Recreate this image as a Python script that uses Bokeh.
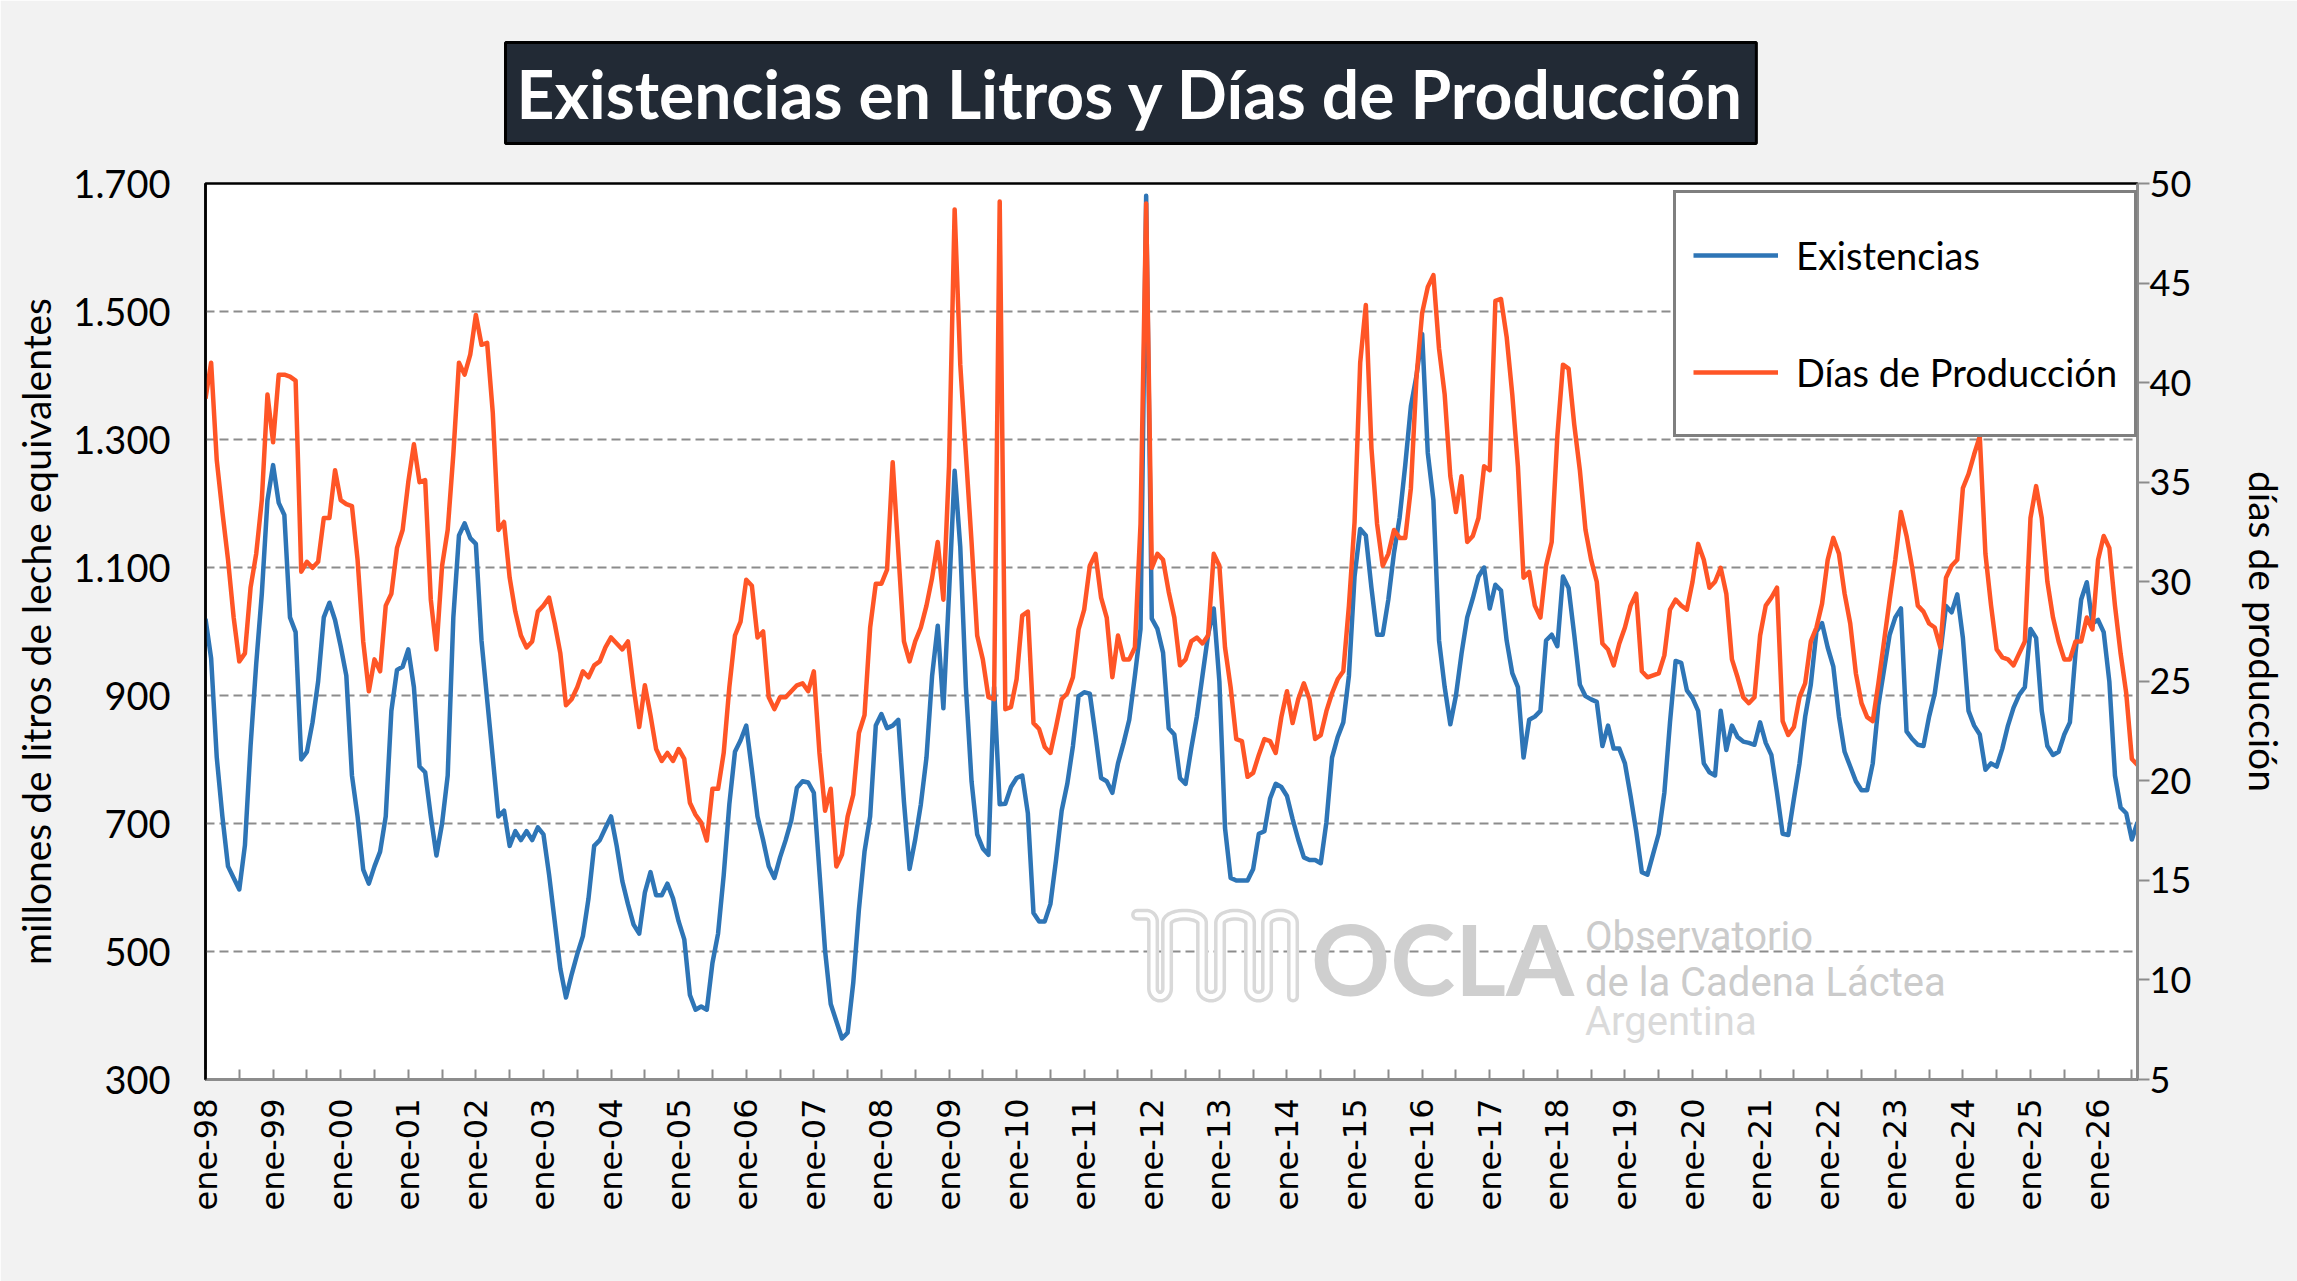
import numpy as np
from bokeh.plotting import figure
from bokeh.models import Range1d, LinearAxis, FixedTicker, Legend, LegendItem
from bokeh.core.properties import value
from bokeh.embed import file_html
from bokeh.resources import INLINE

# ---------------- datos ----------------
anios = ["98", "99", "00", "01", "02", "03", "04", "05", "06", "07", "08", "09", "10",
         "11", "12", "13", "14", "15", "16", "17", "18", "19", "20", "21", "22", "23",
         "24", "25", "26"]

# millones de litros de leche equivalentes, mensual desde ene-98
existencias = [
    1020, 958, 803, 711, 633, 615, 597, 666, 821, 949,
    1059, 1205, 1260, 1201, 1182, 1022, 999, 800, 812, 858,
    922, 1022, 1045, 1018, 977, 931, 775, 711, 628, 606,
    633, 656, 711, 876, 940, 945, 972, 913, 789, 780,
    711, 650, 700, 775, 1022, 1150, 1169, 1146, 1137, 986,
    894, 803, 711, 720, 665, 688, 674, 688, 674, 694,
    683, 620, 547, 473, 428, 464, 496, 524, 583, 665,
    674, 693, 711, 665, 610, 574, 542, 528, 592, 624,
    588, 588, 606, 583, 547, 519, 432, 409, 414, 409,
    482, 528, 619, 730, 812, 830, 853, 784, 711, 674,
    633, 615, 647, 674, 705, 756, 766, 764, 748, 624,
    501, 418, 391, 364, 373, 451, 565, 656, 711, 853,
    871, 849, 853, 862, 734, 629, 675, 730, 803, 931,
    1009, 880, 1059, 1251, 1132, 913, 766, 683, 661, 651,
    913, 730, 731, 757, 771, 775, 716, 560, 547, 547,
    574, 643, 720, 762, 821, 899, 905, 903, 839, 771,
    766, 748, 794, 826, 862, 931, 1004, 1681, 1020, 1004,
    967, 849, 839, 771, 762, 817, 867, 931, 995, 1036,
    922, 693, 615, 611, 611, 611, 629, 684, 688, 739,
    762, 757, 743, 707, 675, 647, 643, 643, 638, 702,
    803, 835, 858, 931, 1086, 1160, 1150, 1068, 995, 995,
    1050, 1123, 1178, 1260, 1352, 1400, 1465, 1279, 1205, 986,
    913, 855, 900, 966, 1022, 1052, 1086, 1100, 1036, 1073,
    1064, 986, 935, 913, 803, 862, 867, 876, 986, 995,
    977, 1086, 1068, 995, 917, 899, 894, 890, 821, 853,
    817, 817, 794, 743, 688, 624, 620, 652, 684, 748,
    858, 954, 951, 908, 896, 876, 794, 780, 775, 876,
    815, 853, 835, 828, 826, 823, 858, 826, 807, 748,
    684, 682, 739, 794, 867, 917, 1000, 1013, 975, 945,
    867, 812, 789, 766, 752, 752, 794, 885, 940, 995,
    1022, 1036, 844, 832, 823, 821, 867, 903, 967, 1040,
    1030, 1058, 990, 876, 853, 839, 784, 794, 789, 817,
    853, 881, 901, 913, 1004, 990, 876, 821, 807, 812,
    839, 858, 967, 1050, 1077, 1013, 1018, 999, 922, 775,
    725, 716, 675, 702,
]

# días de producción, mensual desde ene-98
dias = [
    39.2, 41.0, 36.1, 33.5, 31.1, 28.2, 26.0, 26.4, 29.7, 31.4,
    34.1, 39.4, 37.0, 40.4, 40.4, 40.3, 40.1, 30.5, 31.0, 30.7,
    31.0, 33.2, 33.2, 35.6, 34.1, 33.9, 33.8, 31.1, 27.0, 24.5,
    26.1, 25.5, 28.8, 29.4, 31.7, 32.6, 35.0, 36.9, 35.0, 35.1,
    29.1, 26.6, 30.8, 32.6, 36.4, 41.0, 40.4, 41.4, 43.4, 41.9,
    42.0, 38.5, 32.6, 33.0, 30.2, 28.5, 27.3, 26.7, 27.0, 28.5,
    28.8, 29.2, 27.9, 26.4, 23.8, 24.1, 24.7, 25.5, 25.2, 25.8,
    26.0, 26.7, 27.2, 26.9, 26.6, 27.0, 24.7, 22.7, 24.8, 23.3,
    21.6, 21.0, 21.4, 21.0, 21.6, 21.1, 18.9, 18.3, 17.9, 17.0,
    19.6, 19.6, 21.4, 24.7, 27.3, 28.0, 30.1, 29.8, 27.2, 27.5,
    24.2, 23.6, 24.2, 24.2, 24.5, 24.8, 24.9, 24.5, 25.5, 21.4,
    18.5, 19.6, 15.7, 16.3, 18.2, 19.3, 22.4, 23.3, 27.7, 29.9,
    29.9, 30.6, 36.0, 31.5, 27.0, 26.0, 27.0, 27.7, 28.8, 30.2,
    32.0, 29.1, 35.8, 48.7, 40.9, 36.4, 32.0, 27.3, 26.1, 24.2,
    24.1, 49.1, 23.6, 23.7, 25.1, 28.3, 28.5, 22.9, 22.6, 21.7,
    21.4, 22.7, 24.1, 24.4, 25.2, 27.6, 28.6, 30.8, 31.4, 29.2,
    28.2, 25.2, 27.3, 26.1, 26.1, 26.7, 32.9, 49.0, 30.7, 31.4,
    31.1, 29.5, 28.2, 25.8, 26.1, 27.0, 27.2, 26.9, 27.3, 31.4,
    30.8, 26.7, 24.7, 22.1, 22.0, 20.2, 20.4, 21.3, 22.1, 22.0,
    21.4, 23.2, 24.5, 22.9, 24.1, 24.9, 24.1, 22.1, 22.3, 23.5,
    24.4, 25.1, 25.5, 28.8, 33.0, 41.0, 43.9, 36.7, 32.9, 30.8,
    31.4, 32.6, 32.2, 32.2, 34.7, 40.3, 43.5, 44.8, 45.4, 41.7,
    39.4, 35.3, 33.5, 35.3, 32.0, 32.3, 33.2, 35.8, 35.6, 44.1,
    44.2, 42.3, 39.4, 35.8, 30.2, 30.5, 28.8, 28.2, 30.8, 32.0,
    37.3, 40.9, 40.7, 37.9, 35.6, 32.6, 31.1, 30.0, 26.9, 26.6,
    25.8, 26.9, 27.7, 28.8, 29.4, 25.5, 25.2, 25.3, 25.4, 26.3,
    28.6, 29.1, 28.8, 28.6, 30.0, 31.9, 31.1, 29.7, 30.0, 30.7,
    29.4, 26.1, 25.2, 24.2, 23.9, 24.2, 27.3, 28.8, 29.2, 29.7,
    23.0, 22.3, 22.7, 24.2, 24.9, 27.0, 27.7, 28.9, 31.1, 32.2,
    31.4, 29.4, 27.9, 25.4, 23.9, 23.2, 23.0, 24.9, 27.0, 29.1,
    31.1, 33.5, 32.3, 30.7, 28.8, 28.5, 27.9, 27.7, 26.7, 30.2,
    30.8, 31.1, 34.7, 35.4, 36.4, 37.3, 31.4, 28.8, 26.6, 26.2,
    26.1, 25.8, 26.4, 27.0, 33.2, 34.8, 33.2, 30.0, 28.2, 27.0,
    26.1, 26.1, 27.0, 27.0, 28.2, 27.6, 31.1, 32.3, 31.7, 28.8,
    26.4, 24.4, 21.1, 20.8,
]

ticks_izq = [300, 500, 700, 900, 1100, 1300, 1500, 1700]
etiquetas_izq = ["300", "500", "700", "900", "1.100", "1.300", "1.500", "1.700"]
ticks_der = [5, 10, 15, 20, 25, 30, 35, 40, 45, 50]

# ---------------- figura ----------------
n = max(len(existencias), len(dias))
x_exist = list(range(len(existencias)))
x_dias = list(range(len(dias)))

AZUL = "#2e75b6"
NARANJA = "#ff5526"

p = figure(width=2297, height=1281, output_backend="svg", toolbar_location=None,
           x_range=Range1d(0, n - 1), y_range=Range1d(300, 1700),
           min_border_left=205, min_border_right=160, min_border_top=182, min_border_bottom=202,
           background_fill_color="white", border_fill_color="#f2f2f2")
p.extra_y_ranges = {"dias": Range1d(5, 50)}
p.outline_line_color = "black"
p.outline_line_width = 2.5

# título
p.title.text = "Existencias en Litros y Días de Producción"
p.title.align = "left"
p.title.offset = 300
p.title.standoff = 80
p.title.text_font = "Lato"
p.title.text_font_style = "bold"
p.title.text_font_size = "66px"
p.title.text_color = "white"
p.title.background_fill_color = "#222a35"
p.title.border_line_color = "black"
p.title.border_line_width = 3
try:
    p.title.padding = 11
except Exception:
    pass

# eje x
ticks_x = list(range(0, n, 6))
over_x = {}
for t in ticks_x:
    over_x[t] = ("ene-" + anios[t // 12]) if (t % 12 == 0 and t // 12 < len(anios)) else ""
p.xaxis.ticker = FixedTicker(ticks=ticks_x)
p.xaxis.major_label_overrides = over_x
p.xaxis.major_label_orientation = np.pi / 2
p.xaxis.major_label_text_font = "DejaVu Sans"
p.xaxis.major_label_text_font_size = "32px"
p.xaxis.major_label_text_color = "black"
p.xaxis.major_label_standoff = 19
p.xaxis.major_tick_in = 10
p.xaxis.major_tick_out = 0
p.xaxis.major_tick_line_color = "#8c8c8c"
p.xaxis.major_tick_line_width = 2
p.xaxis.minor_tick_line_color = None
p.xaxis.axis_line_color = "#8c8c8c"
p.xaxis.axis_line_width = 3
p.xgrid.visible = False

# eje y izquierdo
p.yaxis.ticker = FixedTicker(ticks=ticks_izq)
p.yaxis.major_label_overrides = dict(zip(ticks_izq, etiquetas_izq))
p.yaxis.major_label_text_font = "Lato"
p.yaxis.major_label_text_font_size = "38px"
p.yaxis.major_label_text_color = "black"
p.yaxis.major_label_standoff = 35
p.yaxis.major_tick_in = 0
p.yaxis.major_tick_out = 0
p.yaxis.minor_tick_line_color = None
p.yaxis.axis_line_color = "black"
p.yaxis.axis_line_width = 2.5
p.yaxis.axis_label = "millones de litros de leche equivalentes"
p.yaxis.axis_label_text_font = "Lato"
p.yaxis.axis_label_text_font_size = "39px"
p.yaxis.axis_label_text_font_style = "normal"
p.yaxis.axis_label_text_color = "black"
p.yaxis.axis_label_standoff = 11

p.ygrid.ticker = FixedTicker(ticks=ticks_izq)
p.ygrid.grid_line_color = "#8c8c8c"
p.ygrid.grid_line_width = 2
p.ygrid.grid_line_dash = "9 5"

# eje y derecho
eje_der = LinearAxis(y_range_name="dias", ticker=FixedTicker(ticks=ticks_der))
eje_der.major_label_text_font = "Lato"
eje_der.major_label_text_font_size = "36px"
eje_der.major_label_text_color = "black"
eje_der.major_label_standoff = 0
eje_der.major_tick_in = 0
eje_der.major_tick_out = 12
eje_der.major_tick_line_color = "#8c8c8c"
eje_der.major_tick_line_width = 2
eje_der.minor_tick_line_color = None
eje_der.axis_line_color = "#8c8c8c"
eje_der.axis_line_width = 3
eje_der.axis_label = "días de producción"
eje_der.axis_label_text_font = "Lato"
eje_der.axis_label_text_font_size = "39px"
eje_der.axis_label_text_font_style = "normal"
eje_der.axis_label_text_color = "black"
eje_der.axis_label_standoff = 47
p.add_layout(eje_der, "right")

# ---------------- marca de agua OCLA ----------------
def a_datos(px, py):
    px = np.asarray(px, dtype=float)
    py = np.asarray(py, dtype=float)
    return (px - 205.2) / 5.634, 300 + (1079 - py) * 200 / 128.14

y_arr, y_ab, rv = 914.0, 996.0, 8.0
verticales = [1153, 1167, 1202, 1220, 1250, 1267, 1293]
cx, cy = [1137.0, 1146.0], [y_arr, y_arr]
t = np.linspace(-np.pi / 2, 0, 10)
cx += list(1146 + 7 * np.cos(t))
cy += list(y_arr + 7 + 7 * np.sin(t))
abajo = True
for xa, xb in zip(verticales[:-1], verticales[1:]):
    mx, rx = (xa + xb) / 2, (xb - xa) / 2
    if abajo:
        cc = y_ab - rv
        tt = np.linspace(np.pi, 0, 16)
    else:
        cc = y_arr + rv
        tt = np.linspace(np.pi, 2 * np.pi, 16)
    cx += list(mx + rx * np.cos(tt))
    cy += list(cc + rv * np.sin(tt))
    abajo = not abajo
cx += [verticales[-1], verticales[-1]]
cy += [y_arr + rv, y_ab]
ix, iy = a_datos(cx, cy)
p.line(ix, iy, line_width=12, color="#d9d9d9", line_cap="round", line_join="round")
p.line(ix, iy, line_width=5, color="white", line_cap="round", line_join="round")

ox, oy = a_datos([1311], [957])
p.text(x=list(ox), y=list(oy), text=["OCLA"], text_font=value("Lato"), text_font_style="bold",
       text_font_size=value("98px"), text_color="#cfcfcf", text_baseline="alphabetic", text_align="left")
wx, wy = a_datos([1585, 1585], [936, 982])
p.text(x=list(wx), y=list(wy), text=["Observatorio", "de la Cadena Láctea"], text_font=value("Roboto"),
       text_font_size=value("40px"), text_color="#cbcbcb", text_baseline="alphabetic", text_align="left")
ax_, ay_ = a_datos([1585], [1021])
p.text(x=list(ax_), y=list(ay_), text=["Argentina"], text_font=value("Roboto"),
       text_font_size=value("40px"), text_color="#dadada", text_baseline="alphabetic", text_align="left")

# ---------------- series ----------------
r_exist = p.line(x_exist, existencias, color=AZUL, line_width=4.5, line_join="round")
r_dias = p.line(x_dias, dias, color=NARANJA, line_width=4.5, line_join="round", y_range_name="dias")

leyenda = Legend(items=[LegendItem(label="Existencias", renderers=[r_exist]),
                        LegendItem(label="Días de Producción", renderers=[r_dias])],
                 location=(1468, 642), orientation="vertical",
                 border_line_color="black", border_line_width=3,
                 background_fill_color="white", background_fill_alpha=1.0,
                 label_text_font="Lato", label_text_font_size="38px", label_text_color="black",
                 glyph_width=85, glyph_height=90, label_height=90, label_standoff=18,
                 spacing=27, padding=17, margin=0)
p.add_layout(leyenda)

open("out.html", "w").write(file_html(p, INLINE))
